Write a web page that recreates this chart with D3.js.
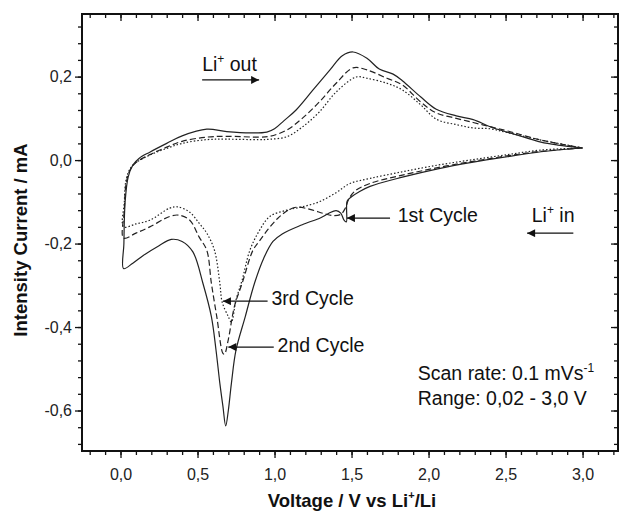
<!DOCTYPE html>
<html>
<head>
<meta charset="utf-8">
<script src="https://cdn.jsdelivr.net/npm/d3@7"></script>
<style>
  body { margin: 0; background: #fff; }
  svg { font-family: "Liberation Sans", Arial, sans-serif; }
</style>
</head>
<body>
<svg id="chart"></svg>
<script>
// cyclic voltammetry, each loop: cathodic 3.0 -> 0.02 V, then anodic 0.02 -> 3.0 V  [V, mA]
const cycle1 = [
  [3.0,0.029],[2.73,0.02],[2.51,0.008],[2.29,-0.005],[2.06,-0.021],[1.83,-0.041],[1.62,-0.063],
  [1.55,-0.076],[1.5,-0.088],[1.472,-0.098],[1.466,-0.148],[1.45,-0.143],[1.43,-0.127],[1.4,-0.121],
  [1.35,-0.128],[1.3,-0.138],[1.18,-0.155],[1.05,-0.177],[0.99,-0.195],[0.93,-0.235],[0.87,-0.295],
  [0.81,-0.375],[0.75,-0.455],[0.72,-0.535],[0.7,-0.6],[0.683,-0.637],[0.665,-0.59],[0.645,-0.535],
  [0.62,-0.455],[0.59,-0.375],[0.535,-0.295],[0.47,-0.22],[0.4,-0.195],[0.33,-0.19],[0.25,-0.205],
  [0.15,-0.228],[0.08,-0.247],[0.02,-0.26],
  [0.022,-0.2],[0.03,-0.1],[0.05,-0.04],[0.08,-0.012],[0.12,0.004],[0.19,0.019],[0.3,0.04],[0.4,0.058],
  [0.56,0.074],[0.69,0.068],[0.85,0.065],[0.95,0.067],[1.0,0.075],[1.06,0.094],[1.14,0.12],[1.25,0.168],
  [1.36,0.216],[1.44,0.25],[1.51,0.259],[1.6,0.244],[1.68,0.218],[1.77,0.206],[1.83,0.19],[1.95,0.151],
  [2.05,0.122],[2.18,0.106],[2.29,0.097],[2.4,0.08],[2.51,0.067],[2.62,0.055],[2.73,0.043],[2.84,0.036],
  [3.0,0.029]
];
const cycle2 = [
  [3.0,0.029],[2.73,0.021],[2.51,0.01],[2.29,-0.003],[2.06,-0.018],[1.83,-0.036],[1.62,-0.056],
  [1.52,-0.075],[1.48,-0.095],[1.46,-0.115],[1.43,-0.13],[1.38,-0.133],[1.32,-0.128],[1.23,-0.118],
  [1.14,-0.113],[1.08,-0.122],[1.02,-0.14],[0.96,-0.165],[0.9,-0.195],[0.86,-0.216],[0.79,-0.295],
  [0.74,-0.35],[0.7,-0.43],[0.675,-0.465],[0.665,-0.463],[0.625,-0.375],[0.59,-0.295],[0.56,-0.216],
  [0.51,-0.184],[0.45,-0.144],[0.38,-0.132],[0.32,-0.135],[0.19,-0.16],[0.1,-0.175],[0.02,-0.187],
  [0.025,-0.12],[0.035,-0.06],[0.06,-0.025],[0.1,-0.006],[0.19,0.013],[0.3,0.031],[0.4,0.045],
  [0.56,0.055],[0.69,0.057],[0.9,0.055],[0.97,0.057],[1.08,0.072],[1.18,0.1],[1.29,0.139],[1.4,0.184],
  [1.51,0.221],[1.6,0.216],[1.73,0.196],[1.83,0.18],[1.95,0.139],[2.05,0.113],[2.18,0.1],[2.29,0.09],
  [2.4,0.08],[2.51,0.07],[2.73,0.048],[3.0,0.029]
];
const cycle3 = [
  [3.0,0.029],[2.73,0.024],[2.51,0.013],[2.27,0.0],[2.06,-0.012],[1.83,-0.028],[1.62,-0.044],
  [1.49,-0.056],[1.4,-0.078],[1.29,-0.1],[1.18,-0.112],[1.08,-0.12],[0.97,-0.135],[0.9,-0.17],
  [0.84,-0.216],[0.79,-0.287],[0.75,-0.335],[0.72,-0.388],[0.7,-0.375],[0.66,-0.34],[0.645,-0.295],
  [0.61,-0.216],[0.56,-0.175],[0.51,-0.151],[0.45,-0.125],[0.37,-0.112],[0.32,-0.115],[0.19,-0.144],
  [0.1,-0.153],[0.02,-0.16],
  [0.025,-0.1],[0.035,-0.05],[0.06,-0.022],[0.1,-0.006],[0.19,0.012],[0.3,0.028],[0.4,0.04],
  [0.56,0.049],[0.69,0.05],[0.9,0.049],[0.97,0.05],[1.08,0.056],[1.18,0.079],[1.29,0.115],[1.4,0.163],
  [1.53,0.199],[1.6,0.196],[1.73,0.184],[1.83,0.168],[1.95,0.132],[2.05,0.098],[2.18,0.085],
  [2.29,0.077],[2.4,0.075],[2.51,0.066],[2.73,0.048],[3.0,0.029]
];
const series = [
  { name: "1st Cycle", data: cycle1, dash: null },
  { name: "2nd Cycle", data: cycle2, dash: "6,3" },
  { name: "3rd Cycle", data: cycle3, dash: "1.5,2" }
];

const xTicks = [0, 0.5, 1.0, 1.5, 2.0, 2.5, 3.0];
const yTicks = [-0.6, -0.4, -0.2, 0.0, 0.2];
const fmt = d => d3.format(".1f")(d).replace(".", ",").replace("−", "-");

// annotations: arrows [x1,y1,x2,y2] in data units, head at x2,y2
const arrows = [
  [0.53, 0.192, 0.90, 0.192],
  [2.94, -0.175, 2.64, -0.175],
  [1.75, -0.139, 1.47, -0.139],
  [0.955, -0.338, 0.665, -0.338],
  [0.995, -0.448, 0.70, -0.448]
];
const labels = [
  { x: 0.53, y: 0.213, text: "Li", sup: "+", rest: " out" },
  { x: 2.67, y: -0.149, text: "Li", sup: "+", rest: " in" },
  { x: 1.80, y: -0.148, text: "1st Cycle" },
  { x: 0.98, y: -0.347, text: "3rd Cycle" },
  { x: 1.02, y: -0.46, text: "2nd Cycle" },
  { x: 1.93, y: -0.527, text: "Scan rate: 0.1 mVs", sup: "-1", rest: "" },
  { x: 1.93, y: -0.587, text: "Range: 0,02 - 3,0 V" }
];

const W = 619, H = 514;
const margin = { top: 14, right: 1, bottom: 63, left: 82 };
const width = W - margin.left - margin.right;
const height = H - margin.top - margin.bottom;

const svg = d3.select("#chart").attr("width", W).attr("height", H);
const g = svg.append("g").attr("transform", `translate(${margin.left},${margin.top})`);

const x = d3.scaleLinear().domain([-0.25, 3.23]).range([0, width]);
const y = d3.scaleLinear().domain([-0.697, 0.35]).range([height, 0]);

const xMinor = d3.range(-0.2, 3.21, 0.1).map(d => +d.toFixed(2));
const yMinor = d3.range(-0.68, 0.34, 0.04).map(d => +d.toFixed(2));

function styleAxis(sel) {
  sel.select(".domain").remove();
  sel.selectAll("line").attr("stroke", "#111").attr("stroke-width", 1.3);
  sel.selectAll("text").attr("font-size", 16).attr("fill", "#222");
}

// minor ticks
g.append("g").attr("transform", `translate(0,${height})`)
  .call(d3.axisBottom(x).tickValues(xMinor).tickSize(4).tickFormat(""))
  .call(styleAxis);
g.append("g")
  .call(d3.axisTop(x).tickValues(xMinor).tickSize(-4).tickFormat(""))
  .call(styleAxis);
g.append("g")
  .call(d3.axisLeft(y).tickValues(yMinor).tickSize(4).tickFormat(""))
  .call(styleAxis);
g.append("g").attr("transform", `translate(${width},0)`)
  .call(d3.axisRight(y).tickValues(yMinor).tickSize(-4).tickFormat(""))
  .call(styleAxis);

// major ticks
g.append("g").attr("transform", `translate(0,${height})`)
  .call(d3.axisBottom(x).tickValues(xTicks).tickSize(7).tickPadding(11).tickFormat(fmt))
  .call(styleAxis);
g.append("g")
  .call(d3.axisTop(x).tickValues(xTicks).tickSize(-7).tickFormat(""))
  .call(styleAxis);
g.append("g")
  .call(d3.axisLeft(y).tickValues(yTicks).tickSize(7).tickPadding(3).tickFormat(fmt))
  .call(styleAxis);
g.append("g").attr("transform", `translate(${width},0)`)
  .call(d3.axisRight(y).tickValues(yTicks).tickSize(-7).tickFormat(""))
  .call(styleAxis);

// frame
g.append("rect").attr("width", width).attr("height", height)
  .attr("fill", "none").attr("stroke", "#111").attr("stroke-width", 2);

// curves
const line = d3.line()
  .x(d => x(d[0])).y(d => y(d[1]))
  .curve(d3.curveCatmullRom.alpha(0.5));

g.selectAll(".cv").data(series).join("path")
  .attr("class", "cv")
  .attr("d", d => line(d.data))
  .attr("fill", "none")
  .attr("stroke", "#222")
  .attr("stroke-width", 1.2)
  .attr("stroke-dasharray", d => d.dash);

// arrows
svg.append("defs").append("marker")
  .attr("id", "head").attr("viewBox", "0 0 10 10")
  .attr("refX", 10).attr("refY", 5)
  .attr("markerWidth", 10).attr("markerHeight", 8)
  .attr("markerUnits", "userSpaceOnUse")
  .attr("orient", "auto")
  .append("path").attr("d", "M0,0L10,5L0,10Z").attr("fill", "#111");

g.selectAll(".arrow").data(arrows).join("line")
  .attr("class", "arrow")
  .attr("x1", d => x(d[0])).attr("y1", d => y(d[1]))
  .attr("x2", d => x(d[2])).attr("y2", d => y(d[3]))
  .attr("stroke", "#111").attr("stroke-width", 1.2)
  .attr("marker-end", "url(#head)");

const lt = g.selectAll(".lab").data(labels).join("text")
  .attr("class", "lab")
  .attr("x", d => x(d.x)).attr("y", d => y(d.y))
  .attr("font-size", 19.5).attr("fill", "#111");
lt.append("tspan").text(d => d.text);
lt.filter(d => d.sup).append("tspan")
  .attr("font-size", 12).attr("dy", -8).text(d => d.sup);
lt.filter(d => d.sup && d.rest).append("tspan")
  .attr("dy", 8).text(d => d.rest);

// axis titles
const xt = svg.append("text")
  .attr("x", 352).attr("y", 507)
  .attr("text-anchor", "middle")
  .attr("font-size", 18.5).attr("font-weight", "bold").attr("fill", "#111");
xt.append("tspan").text("Voltage / V vs Li");
xt.append("tspan").attr("font-size", 11).attr("dy", -8).text("+");
xt.append("tspan").attr("dy", 8).text("/Li");

svg.append("text")
  .attr("transform", "translate(27,240) rotate(-90)")
  .attr("text-anchor", "middle")
  .attr("font-size", 18.5).attr("font-weight", "bold").attr("fill", "#111")
  .text("Intensity Current / mA");
</script>
</body>
</html>
